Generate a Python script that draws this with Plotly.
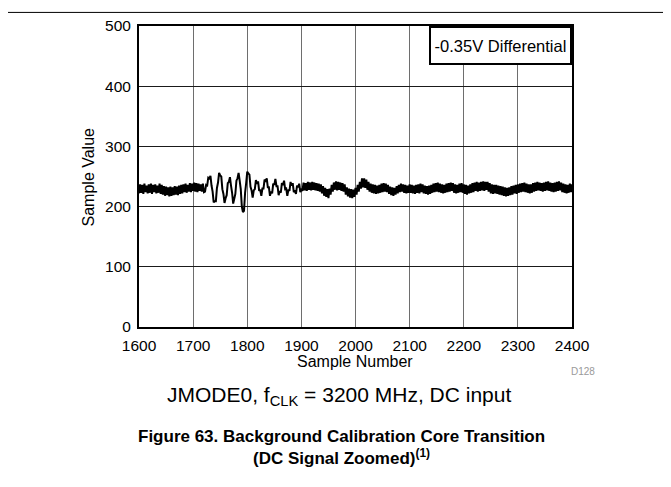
import plotly.graph_objects as go

# sample values, one every 2 samples from 1600 to 2400
sample_value = [
    # 1600 - 1720
    222, 237, 223, 236, 221, 238, 224, 235, 222, 237,
    223, 238, 221, 236, 224, 237, 222, 235, 223, 238,
    221, 236, 220, 234, 218, 233, 219, 232, 217, 233,
    218, 232, 219, 234, 220, 233, 219, 235, 221, 236,
    222, 237, 224, 238, 223, 236, 225, 239, 224, 238,
    226, 240, 225, 239, 224, 238, 226, 237, 225, 238,
    224,
    # 1722 - 1900, calibration transition
    225, 236, 235, 248, 247, 251, 235, 225, 207, 209,
    209, 231, 240, 256, 252, 250, 229, 221, 206, 214,
    219, 239, 241, 249, 235, 223, 205, 213, 221, 243,
    247, 256, 243, 229, 200, 191, 193, 223, 239, 258,
    255, 253, 233, 227, 215, 227, 229, 244, 238, 242,
    226, 228, 218, 230, 230, 245, 241, 247, 232, 232,
    218, 225, 222, 238, 236, 246, 234, 234, 219, 226,
    223, 239, 236, 243, 229, 230, 218, 228, 226, 241,
    235, 239, 224, 227, 221, 235, 232, 238, 224, 228,
    # 1902 - 2100
    226, 240, 227, 239, 226, 241, 228, 240, 227, 241,
    228, 240, 227, 239, 226, 238, 225, 237, 222, 234,
    218, 231, 216, 229, 214, 230, 220, 236, 225, 240,
    228, 242, 227, 241, 228, 240, 226, 239, 225, 237,
    220, 232, 217, 230, 215, 229, 214, 228, 216, 231,
    220, 236, 225, 241, 230, 247, 232, 247, 231, 245,
    228, 241, 225, 238, 223, 237, 222, 236, 221, 235,
    222, 236, 223, 238, 224, 239, 225, 238, 224, 236,
    221, 233, 219, 232, 218, 231, 220, 234, 222, 236,
    224, 238, 225, 237, 223, 236, 222, 235, 223, 237,
    # 2102 - 2400
    223, 236, 222, 235, 221, 236, 223, 237, 222, 238,
    224, 237, 222, 235, 221, 234, 220, 235, 221, 236,
    223, 238, 224, 239, 225, 240, 224, 238, 223, 237,
    222, 236, 223, 238, 224, 239, 225, 240, 226, 239,
    223, 237, 222, 236, 223, 238, 224, 239, 223, 237,
    221, 236, 220, 235, 222, 237, 223, 239, 224, 240,
    226, 241, 225, 240, 226, 241, 227, 242, 226, 241,
    228, 241, 225, 239, 222, 237, 221, 236, 222, 236,
    221, 235, 220, 234, 219, 233, 218, 232, 217, 231,
    218, 232, 219, 234, 220, 235, 222, 236, 221, 237,
    223, 238, 224, 239, 225, 240, 224, 238, 223, 237,
    222, 237, 223, 239, 225, 240, 226, 241, 227, 240,
    226, 239, 225, 240, 226, 241, 227, 242, 226, 240,
    225, 239, 224, 240, 225, 241, 226, 242, 227, 240,
    224, 238, 223, 237, 222, 236, 223, 238, 224, 237,
]
sample_number = list(range(1600, 1600 + 2 * len(sample_value), 2))

x_ticks = [1600, 1700, 1800, 1900, 2000, 2100, 2200, 2300, 2400]
y_ticks = [0, 100, 200, 300, 400, 500]

font = "Liberation Sans, Arial, sans-serif"

fig = go.Figure()
fig.add_trace(go.Scatter(x=sample_number, y=sample_value, mode="lines",
                         line=dict(color="black", width=2, simplify=False), showlegend=False))

# page has a body margin, so the figure is a bit smaller than the window
top, bottom = 9, 152
fig.update_layout(
    width=655, height=471,
    margin=dict(l=131, r=91, t=top, b=bottom),
    paper_bgcolor="white", plot_bgcolor="white",
    font=dict(family=font, size=15.5, color="black"),
    showlegend=False,
)
fig.update_xaxes(range=[1600, 2400], tickvals=x_ticks, showgrid=True, gridcolor="#6e6e6e", gridwidth=1,
                 showline=True, linecolor="black", linewidth=2, mirror=True, zeroline=False,
                 ticks="", ticklabelstandoff=3, tickfont=dict(size=15.5))
fig.update_yaxes(range=[0, 500], tickvals=y_ticks, showgrid=True, gridcolor="#1a1a1a", gridwidth=1,
                 showline=True, linecolor="black", linewidth=2, mirror=True, zeroline=False,
                 ticks="", ticklabelstandoff=3, tickfont=dict(size=15.5))

ph = 471.0 - top - bottom
pw = 433.0
ybase = 327  # page y of the x axis


def note(text, px, py, size, **kw):
    # px, py are page pixels of the text centre, turned into plot-area fractions
    fig.add_annotation(text=text, xref="paper", yref="paper", x=(px - 139) / pw, y=(ybase - py) / ph,
                       xanchor=kw.pop("xanchor", "center"), yanchor=kw.pop("yanchor", "middle"),
                       showarrow=False, font=dict(size=size, color=kw.pop("color", "black")), **kw)


note("Sample Number", 355, 363, 16)
note("Sample Value", 88, 173, 16, textangle=-90)
note("D128", 597, 373, 10, xanchor="right", color="#9a9a9a")
fig.add_annotation(text="-0.35V Differential", xref="paper", yref="paper", x=1, y=1,
                   xanchor="right", yanchor="top", showarrow=False, font=dict(size=16.5),
                   bordercolor="black", borderwidth=2, bgcolor="white", width=137, height=33)
note("JMODE0, f<sub>CLK</sub> = 3200 MHz, DC input", 339, 398, 21)
note("<b>Figure 63. Background Calibration Core Transition</b>", 341, 440, 17)
note("<b>(DC Signal Zoomed)<sup>(1)</sup></b>", 341, 461, 17)

fig.add_shape(type="line", xref="paper", yref="paper", x0=-139 / pw, x1=(671 - 139) / pw,
              y0=1 + 14 / ph, y1=1 + 14 / ph, line=dict(color="black", width=1))

fig.write_html("out.html")
